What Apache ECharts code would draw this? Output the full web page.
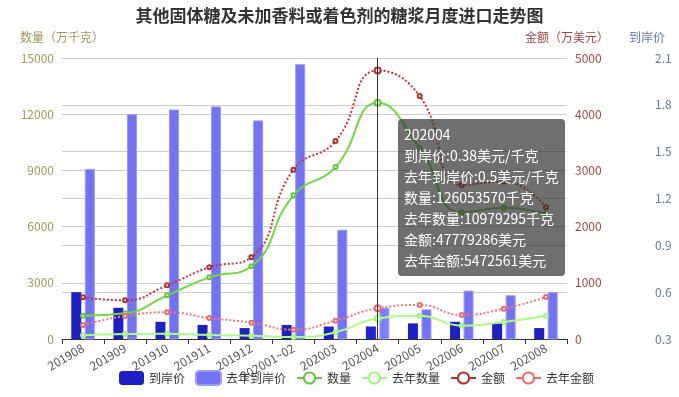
<!DOCTYPE html>
<html>
<head>
<meta charset="utf-8">
<script src="https://cdn.jsdelivr.net/npm/echarts@6/dist/echarts.min.js"></script>
<style>
html,body{margin:0;padding:0;background:#fff;}
#main{width:679px;height:397px;}
</style>
</head>
<body>
<div id="main"></div>
<script>
var months = ['201908','201909','201910','201911','201912','202001~02','202003','202004','202005','202006','202007','202008'];
// 到岸价 (美元/千克)
var price = [0.60,0.50,0.41,0.39,0.37,0.39,0.38,0.38,0.40,0.41,0.40,0.37];
var lastPrice = [1.39,1.74,1.77,1.79,1.70,2.06,1.00,0.5,0.49,0.61,0.58,0.60];
// 数量 (万千克)
var qty = [1240,1370,2330,3290,3880,7670,9180,12605.357,10200,6760,7010,6680];
var lastQty = [197,267,283,213,178,107,356,1097.9295,1244,710,907,1244];
// 金额 (万美元)
var amount = [741,688,955,1275,1453,3012,3522,4777.9286,4323,2740,2798,2343];
var lastAmount = [249,409,475,374,290,166,326,547.2561,605,427,540,747];

var font = "'Noto Sans CJK SC', 'Noto Sans', sans-serif";
var myChart = echarts.init(document.getElementById('main'));

function lineSeries(name, data, axis, color, dotted) {
    return {
        name: name,
        type: 'line',
        yAxisIndex: axis,
        data: data,
        smooth: true,
        symbol: 'emptyCircle',
        symbolSize: 4,
        itemStyle: {color: color, borderWidth: 1.5},
        lineStyle: {color: color, width: 2, type: dotted ? 'dotted' : 'solid'}
    };
}

function plain(v) { return String(v); }

var option = {
    animation: false,
    textStyle: {fontFamily: font},
    title: {
        text: '其他固体糖及未加香料或着色剂的糖浆月度进口走势图',
        left: 'center',
        top: 2,
        textStyle: {fontSize: 17, fontWeight: 'bold', color: '#333', fontFamily: font}
    },
    tooltip: {
        trigger: 'axis',
        position: [398, 119],
        transitionDuration: 0,
        backgroundColor: 'rgba(50,50,50,0.7)',
        borderWidth: 0,
        padding: [5, 6],
        textStyle: {color: '#fff', fontSize: 14, fontFamily: font},
        extraCssText: 'line-height:21px;border-radius:4px;box-shadow:none;',
        axisPointer: {type: 'line', lineStyle: {color: '#333', width: 1, type: 'solid'}},
        formatter: function (ps) {
            var i = ps[0].dataIndex;
            return months[i] + '<br/>' +
                '到岸价:' + price[i] + '美元/千克<br/>' +
                '去年到岸价:' + lastPrice[i] + '美元/千克<br/>' +
                '数量:' + Math.round(qty[i] * 10000) + '千克<br/>' +
                '去年数量:' + Math.round(lastQty[i] * 10000) + '千克<br/>' +
                '金额:' + Math.round(amount[i] * 10000) + '美元<br/>' +
                '去年金额:' + Math.round(lastAmount[i] * 10000) + '美元';
        }
    },
    legend: {
        bottom: 6,
        left: 114,
        itemWidth: 25,
        itemHeight: 14,
        itemGap: 10,
        textStyle: {color: '#333', fontSize: 12},
        data: ['到岸价', '去年到岸价', '数量', '去年数量',
            {name: '金额', lineStyle: {type: 'solid'}},
            {name: '去年金额', lineStyle: {type: 'solid'}}]
    },
    grid: {left: 62, right: 112, top: 58, bottom: 58},
    xAxis: {
        type: 'category',
        data: months,
        axisLine: {lineStyle: {color: '#333'}},
        axisTick: {show: true},
        axisLabel: {rotate: 30, color: '#555', fontSize: 12, interval: 0}
    },
    yAxis: [{
        type: 'value',
        name: '数量（万千克）',
        min: 0, max: 15000, interval: 3000,
        nameTextStyle: {color: '#9a9a5c', fontSize: 12},
        axisLabel: {color: '#9a9a5c', fontSize: 12, formatter: plain},
        axisLine: {show: false},
        splitLine: {lineStyle: {color: '#ccc'}}
    }, {
        type: 'value',
        name: '金额（万美元）',
        position: 'right',
        min: 0, max: 5000, interval: 1000,
        nameTextStyle: {color: '#a04848', fontSize: 12},
        axisLabel: {color: '#a04848', fontSize: 12, formatter: plain},
        axisLine: {show: false},
        splitLine: {show: false}
    }, {
        type: 'value',
        name: '到岸价',
        position: 'right',
        offset: 80,
        min: 0.3, max: 2.1, interval: 0.3,
        nameTextStyle: {color: '#6878a8', fontSize: 12},
        axisLabel: {color: '#6878a8', fontSize: 12, formatter: function (v) { return v.toFixed(1); }},
        axisLine: {show: false},
        splitLine: {lineStyle: {color: '#ccc'}}
    }],
    series: [{
        name: '到岸价',
        type: 'bar',
        yAxisIndex: 2,
        data: price,
        barWidth: 10,
        barGap: '35%',
        itemStyle: {color: '#1f1fc6'}
    }, {
        name: '去年到岸价',
        type: 'bar',
        yAxisIndex: 2,
        data: lastPrice,
        barWidth: 10,
        itemStyle: {color: '#7272f4', borderColor: '#9a9af8', borderWidth: 1}
    },
        lineSeries('数量', qty, 0, '#66c63a', false),
        lineSeries('去年数量', lastQty, 0, '#9ef67a', false),
        lineSeries('金额', amount, 1, '#b03030', true),
        lineSeries('去年金额', lastAmount, 1, '#ee6a6a', true)
    ]
};

myChart.setOption(option);
setTimeout(function () {
    myChart.dispatchAction({type: 'showTip', seriesIndex: 0, dataIndex: 7});
}, 50);
</script>
</body>
</html>
